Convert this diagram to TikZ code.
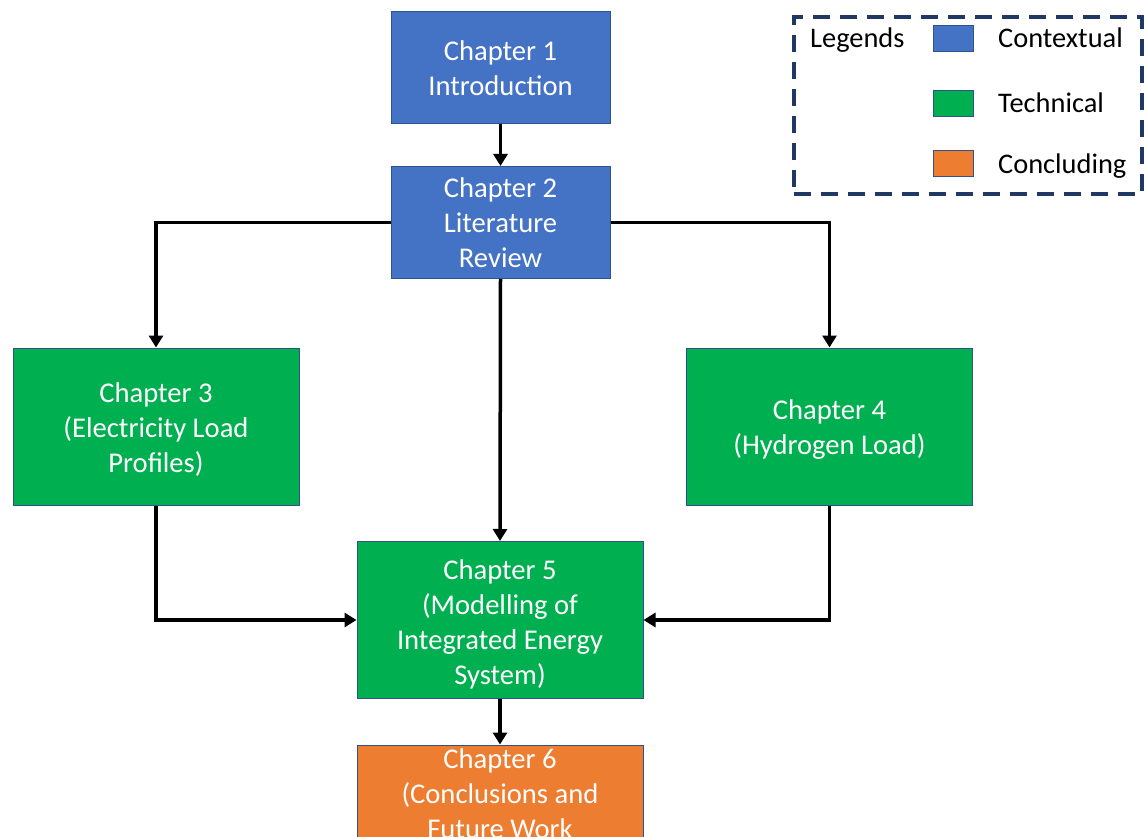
\documentclass[tikz,border=0pt]{standalone}
\usepackage{fontspec}
\setmainfont{Carlito}
\usetikzlibrary{arrows.meta}
\definecolor{cblue}{HTML}{4472C4}
\definecolor{cgreen}{HTML}{00B050}
\definecolor{corange}{HTML}{ED7D31}
\definecolor{cedge}{HTML}{2F528F}
\definecolor{cnavy}{HTML}{1F3864}
\tikzset{
  chbox/.style={draw=cedge, line width=1pt, text=white, align=center, inner sep=0pt,
    font=\fontsize{28.6}{35}\selectfont},
  ctx/.style={chbox, fill=cblue, minimum width=219pt, minimum height=112pt},
  tech/.style={chbox, fill=cgreen, minimum width=286pt, minimum height=157pt},
  conc/.style={chbox, fill=corange, minimum width=286pt, minimum height=157pt},
  conn/.style={line width=3.5pt, -{Triangle[width=14pt,length=12pt]}},
  swatch/.style={draw=cedge, line width=1pt, minimum width=40pt, minimum height=26pt, inner sep=0pt},
  legtext/.style={anchor=base west, inner sep=0pt, font=\fontsize{28.4}{34}\selectfont},
  plaintext/.style={text=white, align=center, inner sep=0pt, font=\fontsize{28.6}{35}\selectfont}
}
\begin{document}
\begin{tikzpicture}[x=1pt, y=-1pt]
\useasboundingbox (0,0) rectangle (1144,837);
\clip (0,0) rectangle (1144,837);
% boxes
\node[ctx] (ch1) at (500.5,68) {Chapter 1\\Introduction};
\node[ctx] (ch2) at (500.5,222.5) {Chapter 2\\Literature\\Review};
\node[tech] (ch3) at (156,426.5) {};
\node[plaintext] (ch3t) at (156,430) {Chapter 3\\(Electricity Load\\Profiles)};
\node[tech] (ch4) at (829.5,426.5) {};
\node[plaintext] (ch4t) at (829.5,430) {Chapter 4\\(Hydrogen Load)};
\node[tech] (ch5) at (500,620) {};
\node[plaintext] (ch5t) at (500,624) {Chapter 5\\(Modelling of\\Integrated Energy\\System)};
\node[conc] (ch6) at (500,823.5) {};
\node[plaintext] (ch6t) at (500,794) {Chapter 6\\(Conclusions and\\Future Work};
% connectors
\draw[conn] (ch1.south) -- (ch2.north);
\draw[conn] (ch2.west) -| (ch3.north);
\draw[conn] (ch2.east) -| (ch4.north);
\draw[conn] (ch2.south) -- (ch5.north);
\draw[conn] (ch3.south) |- (ch5.west);
\draw[conn] (ch4.south) |- (ch5.east);
\draw[conn] (ch5.south) -- (ch6.north);
% legend
\node[draw=cnavy, line width=4pt, dash pattern=on 17pt off 10pt, minimum width=348pt, minimum height=177pt, inner sep=0pt] (legend) at (967.5,106) {};
\node[legtext] (legtitle) at (810,48) {Legends};
\node[swatch, fill=cblue] (swb) at (953,39) {};
\node[swatch, fill=cgreen] (swg) at (953,104) {};
\node[swatch, fill=corange] (swo) at (953,164) {};
\node[legtext] (lb) at (998,48) {Contextual};
\node[legtext] (lg) at (998,113) {Technical};
\node[legtext] (lo) at (998,174) {Concluding};
\end{tikzpicture}
\end{document}
